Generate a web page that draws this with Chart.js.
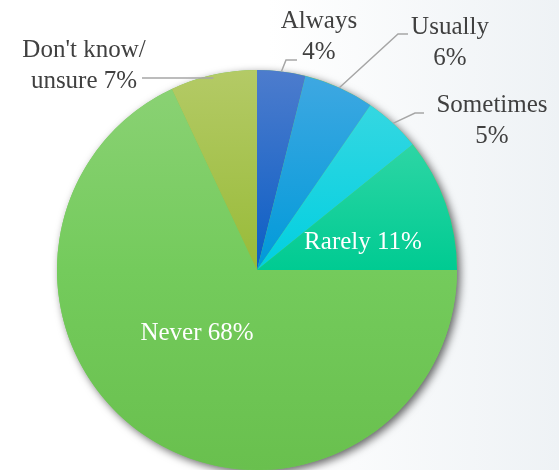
<!DOCTYPE html>
<html>
<head>
<meta charset="utf-8">
<script src="https://cdn.jsdelivr.net/npm/chart.js@4/dist/chart.umd.min.js"></script>
<style>
  html, body { margin: 0; padding: 0; overflow: hidden; }
  body { width: 559px; height: 470px; background: linear-gradient(to right, #ffffff 0%, #ffffff 48%, #eef2f5 100%); }
  canvas { display: block; }
</style>
</head>
<body>
<canvas id="c" width="559" height="470"></canvas>
<script>
// ---- data ----
const categories = ["Always", "Usually", "Sometimes", "Rarely", "Never", "Don't know/unsure"];
const shares = [3.9, 5.7, 4.6, 10.8, 68.0, 7.0];
const labelLines = [["Always", "4%"], ["Usually", "6%"], ["Sometimes", "5%"], ["Rarely 11%"], ["Never 68%"], ["Don't know/", "unsure 7%"]];

// ---- styling ----
const sliceColors = [
  ["#4d7ccd", "#0a5ec5", "#0a5ec5"],
  ["#40a8e2", "#009ad9", "#009ad9"],
  ["#40d9e2", "#00cfe0", "#00cfe0"],
  ["#48dcb0", "#00cb92", "#00c88c"],
  ["#8cd276", "#74cb5c", "#69c04e"],
  ["#b4ca66", "#98bb38", "#90b430"]
];
// label layout (relative to pie centre, in radius units)
const labelLayout = [
  { inside: false, text: [0.31, -1.245], leader: [[0.145, -1.05], [0.2, -1.05]] },
  { inside: false, text: [0.965, -1.215], leader: [[0.705, -1.18], [0.755, -1.18]] },
  { inside: false, text: [1.175, -0.825], leader: [[0.79, -0.785], [0.835, -0.785]] },
  { inside: true, text: [0.53, -0.14] },
  { inside: true, text: [-0.3, 0.315] },
  { inside: false, flat: true, text: [-0.865, -1.1], leader: [[-0.575, -0.96]] }
];
const FONT = "25px 'Liberation Serif', 'Times New Roman', serif";
const LINE_H = 31;

const shadowPlugin = {
  id: 'pieShadow',
  beforeDatasetsDraw(chart) {
    const arc = chart.getDatasetMeta(0).data[0];
    if (!arc) return;
    const ctx = chart.ctx;
    ctx.save();
    ctx.shadowColor = 'rgba(0,0,0,0.6)';
    ctx.shadowBlur = 8;
    ctx.shadowOffsetX = 3;
    ctx.shadowOffsetY = 3;
    ctx.beginPath();
    ctx.arc(arc.x, arc.y, arc.outerRadius, 0, Math.PI * 2);
    ctx.fillStyle = '#72c95a';
    ctx.fill();
    ctx.restore();
  }
};

const labelPlugin = {
  id: 'pieLabels',
  afterDatasetsDraw(chart) {
    const ctx = chart.ctx;
    const arcs = chart.getDatasetMeta(0).data;
    ctx.save();
    ctx.font = FONT;
    ctx.textAlign = 'center';
    ctx.textBaseline = 'middle';
    arcs.forEach((arc, i) => {
      const L = labelLayout[i];
      const cx = arc.x, cy = arc.y, r = arc.outerRadius;
      if (!L.inside && L.leader) {
        const mid = (arc.startAngle + arc.endAngle) / 2;
        const sx = cx + Math.cos(mid) * r;
        const sy = L.flat ? cy + L.leader[0][1] * r : cy + Math.sin(mid) * r;
        ctx.beginPath();
        ctx.strokeStyle = '#a6a6a6';
        ctx.lineWidth = 1.5;
        ctx.moveTo(sx, sy);
        L.leader.forEach(p => ctx.lineTo(cx + p[0] * r, cy + p[1] * r));
        ctx.stroke();
      }
      ctx.fillStyle = L.inside ? '#ffffff' : '#404040';
      const lines = labelLines[i];
      lines.forEach((t, k) => {
        ctx.fillText(t, cx + L.text[0] * r, cy + L.text[1] * r + k * LINE_H);
      });
    });
    ctx.restore();
  }
};

new Chart(document.getElementById('c'), {
  type: 'pie',
  data: {
    labels: categories,
    datasets: [{
      data: shares,
      borderWidth: 0,
      backgroundColor: (ctx) => {
        const ca = ctx.chart.chartArea;
        if (!ca) return sliceColors[ctx.dataIndex][1];
        const c = sliceColors[ctx.dataIndex];
        const g = ctx.chart.ctx.createLinearGradient(0, ca.top, 0, ca.bottom);
        g.addColorStop(0, c[0]);
        g.addColorStop(0.5, c[1]);
        g.addColorStop(1, c[2]);
        return g;
      }
    }]
  },
  options: {
    responsive: false,
    devicePixelRatio: 1,
    animation: false,
    layout: { padding: { left: 57, right: 102, top: 70, bottom: 0 } },
    plugins: { legend: { display: false }, tooltip: { enabled: false } }
  },
  plugins: [shadowPlugin, labelPlugin]
});
</script>
</body>
</html>
